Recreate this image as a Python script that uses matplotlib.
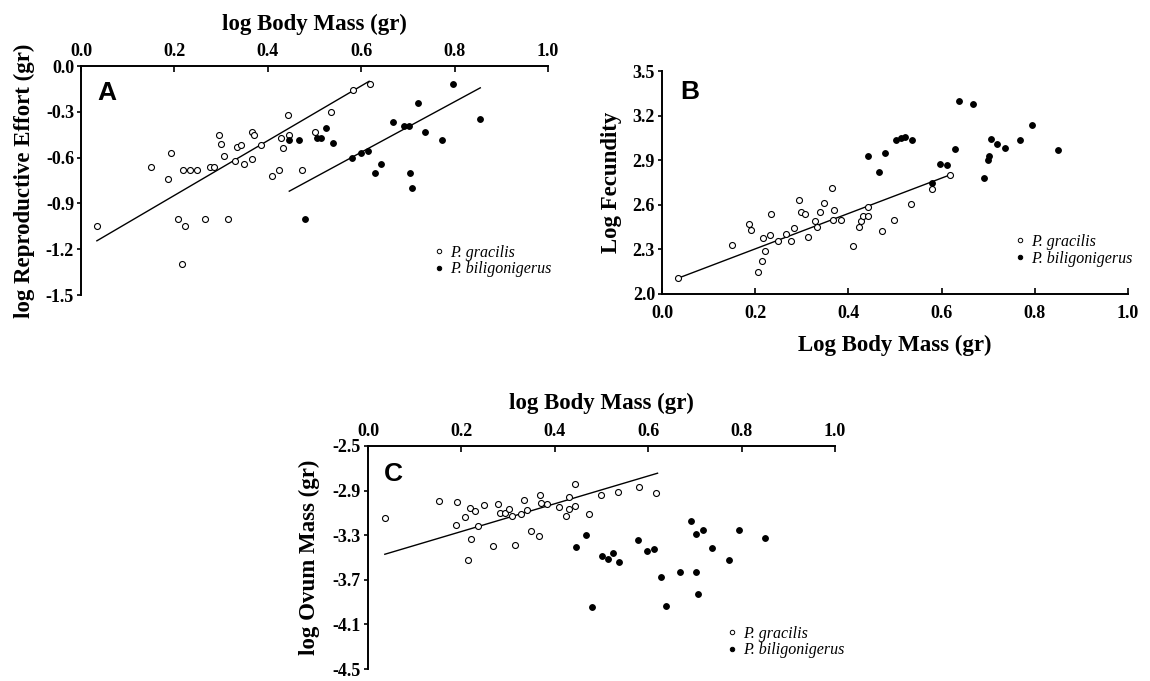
import matplotlib
matplotlib.use("Agg")
import matplotlib.pyplot as plt
from matplotlib.ticker import FormatStrFormatter
from matplotlib.lines import Line2D

plt.rcParams['axes.unicode_minus'] = False
plt.rcParams['font.family'] = ['Liberation Serif', 'DejaVu Serif']

# ---------------- Panel A: log Reproductive Effort ----------------
a_grac_x = [0.034, 0.150, 0.187, 0.192, 0.208, 0.217, 0.222, 0.218, 0.233, 0.249,
            0.266, 0.277, 0.285, 0.296, 0.300, 0.307, 0.315, 0.329, 0.335, 0.342,
            0.350, 0.366, 0.367, 0.371, 0.385, 0.408, 0.424, 0.429, 0.432, 0.443,
            0.445, 0.473, 0.500, 0.536, 0.582, 0.619]
a_grac_y = [-1.05, -0.66, -0.74, -0.57, -1.00, -1.30, -1.05, -0.68, -0.68, -0.68,
            -1.00, -0.66, -0.66, -0.45, -0.51, -0.59, -1.00, -0.62, -0.53, -0.52,
            -0.64, -0.61, -0.43, -0.455, -0.52, -0.72, -0.68, -0.47, -0.535, -0.32,
            -0.455, -0.68, -0.43, -0.30, -0.155, -0.12]
a_bili_x = [0.446, 0.466, 0.479, 0.505, 0.513, 0.525, 0.539, 0.580, 0.600, 0.615,
            0.630, 0.642, 0.668, 0.691, 0.703, 0.704, 0.708, 0.722, 0.737, 0.773,
            0.797, 0.854]
a_bili_y = [-0.485, -0.485, -1.00, -0.47, -0.47, -0.405, -0.505, -0.605, -0.57, -0.555,
            -0.70, -0.64, -0.37, -0.39, -0.39, -0.70, -0.80, -0.245, -0.43, -0.485,
            -0.115, -0.35]
a_fit_grac_x = [0.034, 0.617]
a_fit_grac_y = [-1.145, -0.10]
a_fit_bili_x = [0.446, 0.855]
a_fit_bili_y = [-0.82, -0.143]

# ---------------- Panel B: log Fecundity ----------------
b_grac_x = [0.035, 0.150, 0.187, 0.191, 0.207, 0.214, 0.217, 0.220, 0.233, 0.232,
            0.248, 0.266, 0.277, 0.283, 0.295, 0.299, 0.307, 0.314, 0.328, 0.332,
            0.340, 0.347, 0.365, 0.368, 0.369, 0.384, 0.409, 0.422, 0.427, 0.431,
            0.441, 0.443, 0.472, 0.498, 0.534, 0.580, 0.617]
b_grac_y = [2.107, 2.332, 2.472, 2.432, 2.147, 2.225, 2.379, 2.292, 2.539, 2.397,
            2.354, 2.403, 2.359, 2.443, 2.635, 2.550, 2.539, 2.386, 2.493, 2.448,
            2.550, 2.615, 2.711, 2.501, 2.562, 2.501, 2.323, 2.448, 2.493, 2.526,
            2.526, 2.586, 2.426, 2.501, 2.608, 2.709, 2.800]
b_bili_x = [0.443, 0.465, 0.478, 0.502, 0.512, 0.522, 0.537, 0.579, 0.596, 0.612,
            0.628, 0.638, 0.667, 0.691, 0.700, 0.702, 0.706, 0.718, 0.736, 0.769,
            0.794, 0.850]
b_bili_y = [2.929, 2.818, 2.947, 3.036, 3.052, 3.054, 3.036, 2.747, 2.876, 2.869,
            2.976, 3.297, 3.275, 2.782, 2.898, 2.929, 3.043, 3.007, 2.983, 3.036,
            3.139, 2.969]
b_fit_grac_x = [0.035, 0.617]
b_fit_grac_y = [2.107, 2.800]

# ---------------- Panel C: log Ovum Mass ----------------
c_grac_x = [0.036, 0.151, 0.190, 0.189, 0.208, 0.218, 0.221, 0.215, 0.230, 0.235,
            0.249, 0.267, 0.278, 0.283, 0.293, 0.301, 0.309, 0.314, 0.328, 0.333,
            0.341, 0.349, 0.367, 0.369, 0.371, 0.384, 0.408, 0.423, 0.430, 0.431,
            0.443, 0.443, 0.473, 0.499, 0.535, 0.581, 0.617]
c_grac_y = [-3.150, -2.994, -3.003, -3.212, -3.141, -3.056, -3.338, -3.524, -3.082, -3.221,
            -3.032, -3.400, -3.018, -3.103, -3.097, -3.062, -3.124, -3.385, -3.112, -2.982,
            -3.071, -3.259, -3.309, -2.938, -3.015, -3.024, -3.050, -3.126, -2.956, -3.065,
            -2.844, -3.041, -3.106, -2.941, -2.915, -2.871, -2.921]
c_bili_x = [0.445, 0.466, 0.479, 0.502, 0.513, 0.525, 0.538, 0.579, 0.598, 0.613,
            0.628, 0.639, 0.668, 0.691, 0.703, 0.703, 0.707, 0.718, 0.736, 0.772,
            0.795, 0.851]
c_bili_y = [-3.403, -3.300, -3.947, -3.491, -3.515, -3.462, -3.541, -3.344, -3.444, -3.421,
            -3.674, -3.932, -3.632, -3.171, -3.285, -3.626, -3.829, -3.250, -3.415, -3.518,
            -3.250, -3.321]
c_fit_grac_x = [0.036, 0.620]
c_fit_grac_y = [-3.471, -2.744]

species = ["P. gracilis", "P. biligonigerus"]
x_ticks = [0.0, 0.2, 0.4, 0.6, 0.8, 1.0]
a_yticks = [0.0, -0.3, -0.6, -0.9, -1.2, -1.5]
b_yticks = [2.0, 2.3, 2.6, 2.9, 3.2, 3.5]
c_yticks = [-2.5, -2.9, -3.3, -3.7, -4.1, -4.5]

W, H = 1150, 681
fig = plt.figure(figsize=(W / 100, H / 100), dpi=100)


def px_axes(left, top, right, bottom):
    return fig.add_axes([left / W, 1 - bottom / H, (right - left) / W, (bottom - top) / H])


label_font = dict(family='Liberation Serif', weight='bold', size=16.5)
TICK_SIZE = 13
MS = 4.3


def style(ax, top_axis, yticks, ylim, xpad):
    ax.set_xlim(0, 1.0)
    ax.set_ylim(*ylim)
    ax.set_xticks(x_ticks)
    ax.set_yticks(yticks)
    ax.xaxis.set_major_formatter(FormatStrFormatter('%.1f'))
    ax.yaxis.set_major_formatter(FormatStrFormatter('%.1f'))
    ax.spines['right'].set_visible(False)
    if top_axis:
        ax.spines['bottom'].set_visible(False)
        ax.xaxis.tick_top()
        ax.xaxis.set_label_position('top')
    else:
        ax.spines['top'].set_visible(False)
    for s in ('left', 'top', 'bottom'):
        ax.spines[s].set_linewidth(1.4)
    ax.tick_params(axis='x', direction='in', length=4, width=1.2, pad=xpad)
    ax.tick_params(axis='y', direction='out', length=3, width=1.2, pad=2)
    for lab in ax.get_xticklabels() + ax.get_yticklabels():
        lab.set_fontfamily('Liberation Serif')
        lab.set_fontweight('bold')
        lab.set_fontsize(TICK_SIZE)
    ax.patch.set_alpha(0)


def draw(ax, gx, gy, bx, by):
    ax.plot(gx, gy, 'o', ms=MS, mfc='white', mec='black', mew=0.8, zorder=3)
    ax.plot(bx, by, 'o', ms=MS - 0.2, mfc='black', mec='black', mew=0.8, zorder=3)


def legend(ax, anchor):
    handles = [Line2D([], [], ls='none', marker='o', ms=3.2, mfc='white', mec='black', mew=0.7),
               Line2D([], [], ls='none', marker='o', ms=3.2, mfc='black', mec='black', mew=0.7)]
    ax.legend(handles, species, loc='upper left', bbox_to_anchor=anchor, frameon=False,
              prop=dict(family='Liberation Serif', style='italic', size=11.5),
              handlelength=0.6, handletextpad=0.4, labelspacing=0.05, borderpad=0,
              borderaxespad=0)


# Panel A
axA = px_axes(81, 66, 548, 295)
style(axA, True, a_yticks, (-1.5, 0.0), 4)
draw(axA, a_grac_x, a_grac_y, a_bili_x, a_bili_y)
axA.plot(a_fit_grac_x, a_fit_grac_y, color='black', lw=1.0)
axA.plot(a_fit_bili_x, a_fit_bili_y, color='black', lw=1.0)
axA.set_xlabel('log Body Mass (gr)', fontdict=label_font, labelpad=10)
axA.set_ylabel('log Reproductive Effort (gr)', fontdict=label_font, labelpad=7.5)
axA.text(0.035, 0.935, 'A', transform=axA.transAxes, family='Liberation Sans',
         weight='bold', size=19, va='top', ha='left')
legend(axA, (0.757, 0.22))

# Panel B
axB = px_axes(662, 71, 1128, 294)
style(axB, False, b_yticks, (2.0, 3.5), 8)
draw(axB, b_grac_x, b_grac_y, b_bili_x, b_bili_y)
axB.plot(b_fit_grac_x, b_fit_grac_y, color='black', lw=1.0)
axB.set_xlabel('Log Body Mass (gr)', fontdict=label_font, labelpad=9)
axB.set_ylabel('Log Fecundity', fontdict=label_font, labelpad=7.5)
axB.text(0.04, 0.96, 'B', transform=axB.transAxes, family='Liberation Sans',
         weight='bold', size=19, va='top', ha='left')
legend(axB, (0.757, 0.27))

# Panel C
axC = px_axes(368, 446, 835, 669)
style(axC, True, c_yticks, (-4.5, -2.5), 4)
draw(axC, c_grac_x, c_grac_y, c_bili_x, c_bili_y)
axC.plot(c_fit_grac_x, c_fit_grac_y, color='black', lw=1.0)
axC.set_xlabel('log Body Mass (gr)', fontdict=label_font, labelpad=10.5)
axC.set_ylabel('log Ovum Mass (gr)', fontdict=label_font, labelpad=9)
axC.text(0.035, 0.93, 'C', transform=axC.transAxes, family='Liberation Sans',
         weight='bold', size=19, va='top', ha='left')
legend(axC, (0.77, 0.195))

fig.savefig('out.png', dpi=100)
